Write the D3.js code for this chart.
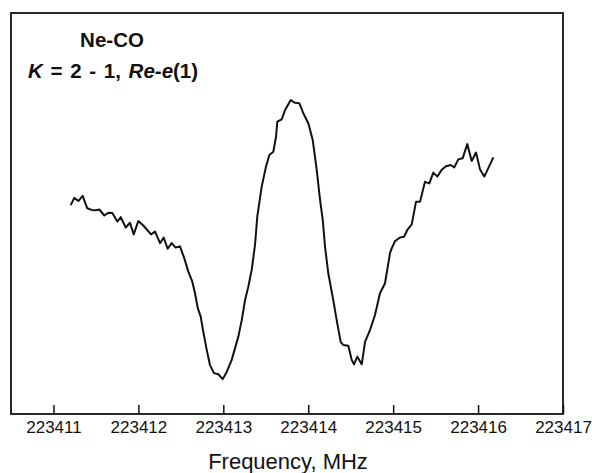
<!DOCTYPE html>
<html>
<head>
<meta charset="utf-8">
<script src="https://cdn.jsdelivr.net/npm/d3@7/dist/d3.min.js"></script>
<style>
  html, body { margin: 0; padding: 0; background: #fff; }
  svg { display: block; }
  text { font-family: "Liberation Sans", Arial, Helvetica, sans-serif; fill: #111; }
</style>
</head>
<body>
<svg id="chart" width="592" height="473"></svg>
<script>
// Ne-CO spectrum, K = 2 - 1, Re-e(1) line: frequency (MHz) vs signal (arb. units)
const frequency = [
  223411.203, 223411.245, 223411.293, 223411.344, 223411.398, 223411.450, 223411.497,
  223411.540, 223411.599, 223411.646, 223411.693, 223411.752, 223411.792, 223411.851,
  223411.901, 223411.945, 223411.999, 223412.058, 223412.149, 223412.196, 223412.255,
  223412.298, 223412.345, 223412.392, 223412.439, 223412.490, 223412.541, 223412.588,
  223412.635, 223412.667, 223412.699, 223412.734, 223412.764, 223412.805, 223412.843,
  223412.890, 223412.941, 223412.993, 223413.040, 223413.099, 223413.177, 223413.217,
  223413.256, 223413.294, 223413.334, 223413.373, 223413.400, 223413.452, 223413.503,
  223413.542, 223413.589, 223413.621, 223413.636, 223413.688, 223413.727, 223413.794,
  223413.844, 223413.895, 223413.942, 223414.001, 223414.053, 223414.100, 223414.139,
  223414.171, 223414.198, 223414.236, 223414.295, 223414.335, 223414.382, 223414.413,
  223414.472, 223414.512, 223414.539, 223414.578, 223414.630, 223414.669, 223414.727,
  223414.786, 223414.845, 223414.904, 223414.963, 223414.983, 223415.022, 223415.081,
  223415.128, 223415.167, 223415.219, 223415.269, 223415.316, 223415.375, 223415.426,
  223415.473, 223415.520, 223415.572, 223415.622, 223415.678, 223415.720, 223415.767,
  223415.819, 223415.873, 223415.925, 223415.976, 223416.023, 223416.073, 223416.180
];

const signal = [
  52.1, 53.9, 53.1, 54.4, 51.3, 50.9, 50.8,
  51.0, 49.5, 50.2, 50.1, 48.0, 49.1, 46.5,
  47.7, 44.8, 48.1, 47.0, 44.8, 45.5, 42.6,
  44.0, 41.2, 42.6, 41.5, 41.8, 38.8, 35.5,
  33.0, 30.1, 26.4, 24.3, 20.5, 16.0, 12.2,
  10.2, 9.9, 8.7, 10.5, 13.5, 19.3, 23.4,
  28.4, 31.7, 35.9, 42.1, 49.2, 56.7, 61.7,
  64.6, 65.4, 69.2, 72.9, 73.5, 75.8, 78.3,
  77.6, 77.5, 75.0, 72.5, 68.3, 60.9, 53.4,
  48.4, 41.7, 35.1, 28.4, 23.4, 18.0, 17.2,
  17.0, 13.5, 12.4, 14.3, 12.4, 18.0, 20.9,
  24.7, 30.1, 32.6, 40.1, 41.3, 43.1, 44.0,
  44.2, 45.9, 47.3, 52.9, 52.9, 57.9, 57.5,
  60.2, 59.2, 60.9, 61.8, 62.1, 61.5, 63.5,
  63.8, 67.3, 63.1, 65.2, 61.0, 59.2, 64.0
];

const xTicks = [223411, 223412, 223413, 223414, 223415, 223416, 223417];
const xDomain = [223410.5, 223417];
const yDomain = [0, 100];

const titleLine1 = "Ne-CO";
const axisTitle = "Frequency, MHz";

const svg = d3.select("#chart");
const plot = { left: 11, top: 13, right: 563, bottom: 414 };

const x = d3.scaleLinear().domain(xDomain).range([plot.left, plot.right]);
const y = d3.scaleLinear().domain(yDomain).range([plot.bottom, plot.top]);

// bottom axis: ticks point into the plot, labels below
const axis = d3.axisBottom(x)
  .tickValues(xTicks)
  .tickFormat(d3.format("d"))
  .tickSizeInner(-9)
  .tickSizeOuter(0);

const gAxis = svg.append("g")
  .attr("transform", `translate(0,${plot.bottom})`)
  .call(axis);
gAxis.select(".domain").remove();
gAxis.selectAll(".tick line").attr("stroke", "#111").attr("stroke-width", 1.5);
gAxis.selectAll(".tick text")
  .attr("y", 19)
  .attr("dy", 0)
  .style("font-size", "17px")
  .style("font-family", "'Liberation Sans', Arial, sans-serif")
  .attr("fill", "#111");

// frame
svg.append("rect")
  .attr("x", plot.left)
  .attr("y", plot.top)
  .attr("width", plot.right - plot.left)
  .attr("height", plot.bottom - plot.top)
  .attr("fill", "none")
  .attr("stroke", "#111")
  .attr("stroke-width", 1.8);

// spectrum trace
const data = frequency.map((f, i) => ({ f, s: signal[i] }));
const line = d3.line().x(d => x(d.f)).y(d => y(d.s));
svg.append("path")
  .datum(data)
  .attr("d", line)
  .attr("fill", "none")
  .attr("stroke", "#111")
  .attr("stroke-width", 2)
  .attr("stroke-linejoin", "round");

// title block
svg.append("text")
  .attr("x", 112)
  .attr("y", 47)
  .attr("text-anchor", "middle")
  .style("font-size", "20.5px")
  .style("font-weight", "bold")
  .text(titleLine1);

const t2 = svg.append("text")
  .attr("x", 28)
  .attr("y", 78)
  .style("font-size", "20.5px")
  .style("font-weight", "bold")
  .style("word-spacing", "2px");
[["K", true], [" = 2 - 1, ", false], ["Re", true], ["-", false], ["e", true], ["(1)", false]]
  .forEach(([s, it]) => t2.append("tspan").style("font-style", it ? "italic" : "normal").text(s));

// axis title
svg.append("text")
  .attr("x", 288)
  .attr("y", 469)
  .attr("text-anchor", "middle")
  .style("font-size", "22px")
  .text(axisTitle);
</script>
</body>
</html>
